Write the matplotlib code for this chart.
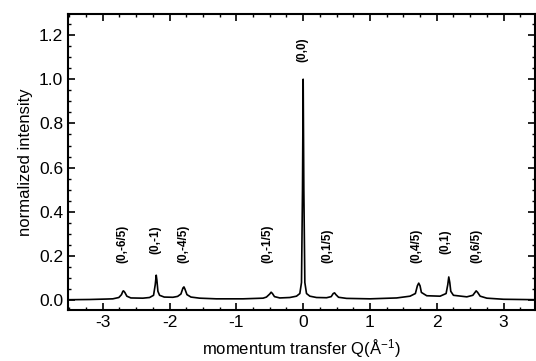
import numpy as np
import matplotlib
matplotlib.use('Agg')
import matplotlib.pyplot as plt
import matplotlib.ticker as ticker

plt.rcParams['font.family'] = ['Liberation Sans', 'DejaVu Sans']

# ---------------- data ----------------
q = [-3.52, -3.2, -2.95, -2.85, -2.76, -2.72, -2.70, -2.69, -2.67, -2.64, -2.58,
     -2.40, -2.30, -2.24, -2.215, -2.20, -2.19, -2.175, -2.15, -2.08,
     -1.95, -1.88, -1.83, -1.80, -1.785, -1.77, -1.74, -1.68, -1.55, -1.3, -0.9,
     -0.6, -0.55, -0.50, -0.48, -0.46, -0.43, -0.35, -0.2, -0.1, -0.05, -0.025,
     -0.01, 0.0, 0.01, 0.025, 0.05, 0.1, 0.2, 0.35, 0.42, 0.45, 0.47, 0.49, 0.53,
     0.65, 1.0, 1.4, 1.6, 1.68, 1.71, 1.73, 1.75, 1.77, 1.85, 2.05, 2.14, 2.165,
     2.18, 2.195, 2.21, 2.25, 2.45, 2.54, 2.58, 2.59, 2.61, 2.65, 2.75, 3.0, 3.5]
intensity = [0.002, 0.003, 0.005, 0.006, 0.012, 0.025, 0.040, 0.042, 0.035, 0.018, 0.010,
             0.009, 0.012, 0.022, 0.07, 0.113, 0.09, 0.04, 0.022, 0.014,
             0.013, 0.017, 0.028, 0.055, 0.060, 0.05, 0.025, 0.014, 0.009, 0.006, 0.006,
             0.009, 0.014, 0.028, 0.036, 0.030, 0.016, 0.010, 0.012, 0.018, 0.03, 0.08,
             0.5, 1.0, 0.5, 0.08, 0.03, 0.018, 0.012, 0.011, 0.016, 0.030, 0.033, 0.025, 0.013,
             0.008, 0.006, 0.010, 0.018, 0.030, 0.065, 0.077, 0.065, 0.035, 0.020, 0.018, 0.030, 0.07,
             0.105, 0.08, 0.04, 0.022, 0.015, 0.022, 0.038, 0.042, 0.036, 0.018, 0.009, 0.004, 0.002]

peak_labels = ['(0,-6/5)', '(0,-1)', '(0,-4/5)', '(0,-1/5)', '(0,0)',
               '(0,1/5)', '(0,4/5)', '(0,1)', '(0,6/5)']
label_q = [-2.70, -2.21, -1.79, -0.53, -0.01, 0.36, 1.70, 2.13, 2.60]
label_y = [0.17, 0.21, 0.17, 0.17, 1.08, 0.17, 0.17, 0.21, 0.17]

# ---------------- figure ----------------
fig = plt.figure(figsize=(5.36, 3.61), dpi=100)
ax = fig.add_axes([0.127, 0.141, 0.871, 0.820])

ax.plot(q, intensity, color='black', linewidth=1.2)

for lab, xq, yq in zip(peak_labels, label_q, label_y):
    ax.text(xq, yq, lab, rotation=90, ha='center', va='bottom', fontsize=8.5,
            fontweight='bold')

ax.set_xlim(-3.52, 3.47)
ax.set_ylim(-0.045, 1.295)

ax.xaxis.set_major_locator(ticker.MultipleLocator(1))
ax.xaxis.set_minor_locator(ticker.MultipleLocator(0.25))
ax.yaxis.set_major_locator(ticker.MultipleLocator(0.2))
ax.yaxis.set_minor_locator(ticker.MultipleLocator(0.05))
ax.yaxis.set_major_formatter(ticker.FormatStrFormatter('%.1f'))
ax.xaxis.set_major_formatter(ticker.FuncFormatter(lambda v, p: '%d' % round(v)))

ax.tick_params(which='both', direction='in', top=True, right=True, labelsize=12.5)
ax.tick_params(which='major', length=5, width=1.2)
ax.tick_params(which='minor', length=2.5, width=1.0)
for s in ax.spines.values():
    s.set_linewidth(1.5)

ax.set_xlabel(r'momentum transfer Q($\mathregular{\AA^{-1}}$)', fontsize=12, labelpad=5)
ax.set_ylabel('normalized intensity', fontsize=12, labelpad=4)

fig.savefig('out.png', dpi=100)
